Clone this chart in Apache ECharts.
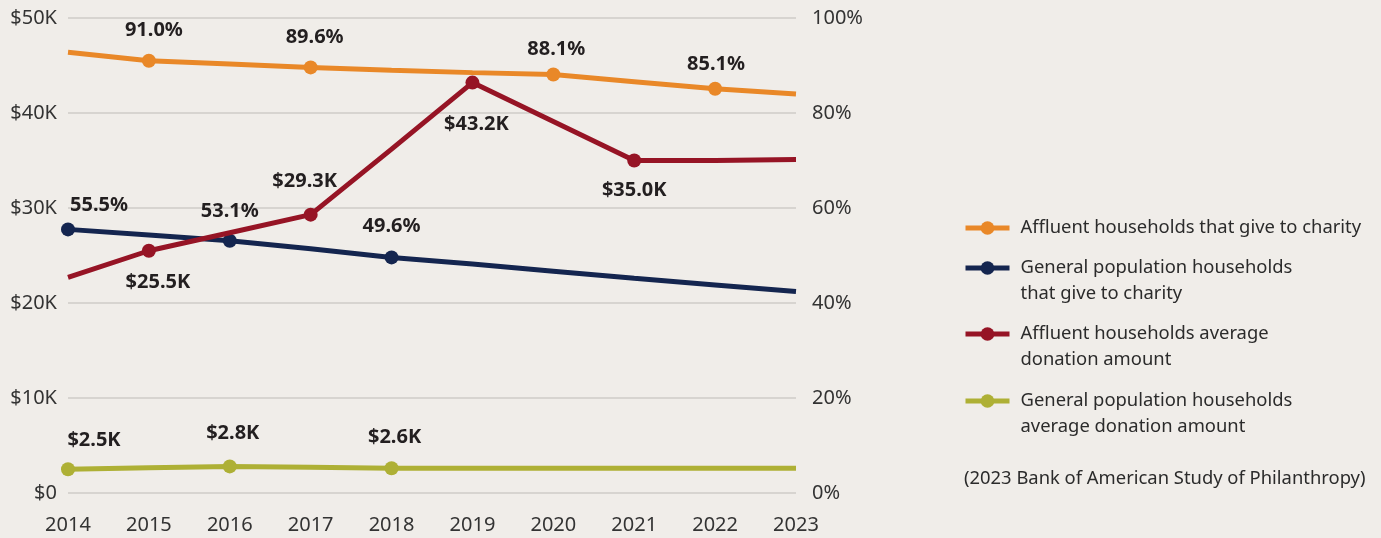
<!DOCTYPE html>
<html>
<head>
<meta charset="utf-8">
<script src="https://cdn.jsdelivr.net/npm/echarts@6/dist/echarts.min.js"></script>
<style>
  html, body { margin: 0; padding: 0; background: #f0ede9; }
  #chart { width: 1381px; height: 538px; }
</style>
</head>
<body>
<div id="chart"></div>
<script>
// Years on the horizontal axis
const years = ['2014', '2015', '2016', '2017', '2018', '2019', '2020', '2021', '2022', '2023'];

// Share of households giving to charity (%)
const affluentGive = [92.8, 91.0, 90.3, 89.6, 89.0, 88.5, 88.1, 86.6, 85.1, 84.0];
const generalGive = [55.5, 54.3, 53.1, 51.4, 49.6, 48.2, 46.7, 45.2, 43.8, 42.4];

// Average donation amount (thousands of dollars)
const affluentDonation = [22.7, 25.5, 27.4, 29.3, 36.2, 43.2, 39.1, 35.0, 35.0, 35.1];
const generalDonation = [2.5, 2.65, 2.8, 2.7, 2.6, 2.6, 2.6, 2.6, 2.6, 2.6];

// Years that carry a marker and a value label, per series
const affluentGiveMarked = ['2015', '2017', '2020', '2022'];
const generalGiveMarked = ['2014', '2016', '2018'];
const affluentDonationMarked = ['2015', '2017', '2019', '2021'];
const generalDonationMarked = ['2014', '2016', '2018'];

// Left axis tick labels (thousands) and right axis tick labels (%)
const dollarTicks = [0, 10, 20, 30, 40, 50];
const percentTicks = [0, 20, 40, 60, 80, 100];

const seriesNames = [
  'Affluent households that give to charity',
  'General population households that give to charity',
  'Affluent households average donation amount',
  'General population households average donation amount'
];
const legendText = [
  'Affluent households that give to charity',
  'General population households\nthat give to charity',
  'Affluent households average\ndonation amount',
  'General population households\naverage donation amount'
];
const colors = ['#e98828', '#14254f', '#961425', '#aeb035'];

const FONT = '"Noto Sans", sans-serif';
const pct = v => v.toFixed(1) + '%';
const usd = v => '$' + v.toFixed(1) + 'K';

// label offsets (px) from marker centre, keyed by year
const labelOffsets = [
  { '2015': [5, -30], '2017': [4, -30], '2020': [3, -25], '2022': [1, -24] },
  { '2014': [31, -24], '2016': [0, -29], '2018': [0, -31] },
  { '2015': [9, 32], '2017': [-6, -33], '2019': [4, 42], '2021': [0, 30] },
  { '2014': [26, -29], '2016': [3, -33], '2018': [3, -31] }
];

function buildData(values, marked, offsets, fmt) {
  return values.map((v, i) => {
    const y = years[i];
    if (marked.indexOf(y) < 0) {
      return { value: v, symbol: 'none' };
    }
    return {
      value: v,
      label: {
        show: true,
        position: 'inside',
        offset: offsets[y],
        formatter: () => fmt(v),
        color: '#231f20',
        fontFamily: FONT,
        fontWeight: 'bold',
        fontSize: 20
      }
    };
  });
}

function lineSeries(idx, values, marked, fmt, axisIdx) {
  return {
    name: seriesNames[idx],
    type: 'line',
    yAxisIndex: axisIdx,
    data: buildData(values, marked, labelOffsets[idx], fmt),
    symbol: 'circle',
    symbolSize: 14,
    showAllSymbol: true,
    lineStyle: { width: 5, color: colors[idx] },
    itemStyle: { color: colors[idx] },
    emphasis: { disabled: true },
    animation: false,
    z: 2 + idx
  };
}

// one legend block per series; a leading blank line keeps the icon beside the first text line
const legendTops = [215, 229, 295, 362];
const legends = seriesNames.map((name, i) => {
  const multi = legendText[i].indexOf('\n') >= 0;
  return {
    data: [name],
    orient: 'vertical',
    left: 963,
    top: legendTops[i],
    padding: 0,
    itemWidth: 44,
    itemHeight: 17,
    selectedMode: false,
    lineStyle: { width: 5 },
    formatter: () => (multi ? '\n' : '') + legendText[i],
    textStyle: {
      fontFamily: FONT,
      fontSize: 18.4,
      color: '#2b2b2b',
      lineHeight: 26,
      padding: [0, 0, 0, 6]
    }
  };
});

const chart = echarts.init(document.getElementById('chart'), null, { renderer: 'canvas' });
chart.setOption({
  backgroundColor: '#f0ede9',
  animation: false,
  grid: { left: 68, right: 585, top: 18, bottom: 45, containLabel: false },
  legend: legends,
  xAxis: {
    type: 'category',
    data: years,
    boundaryGap: false,
    axisLine: { show: false },
    axisTick: { show: false },
    axisLabel: { fontFamily: FONT, fontSize: 20, color: '#333', margin: 22 }
  },
  yAxis: [
    {
      type: 'value',
      min: dollarTicks[0],
      max: dollarTicks[dollarTicks.length - 1],
      interval: dollarTicks[1] - dollarTicks[0],
      axisLine: { show: false },
      axisTick: { show: false },
      splitLine: { lineStyle: { color: '#cfcbc7', width: 1.5 } },
      axisLabel: {
        fontFamily: FONT, fontSize: 20, color: '#333', margin: 11,
        formatter: v => v === 0 ? '$0' : '$' + v + 'K'
      }
    },
    {
      type: 'value',
      min: percentTicks[0],
      max: percentTicks[percentTicks.length - 1],
      interval: percentTicks[1] - percentTicks[0],
      axisLine: { show: false },
      axisTick: { show: false },
      splitLine: { show: false },
      axisLabel: {
        fontFamily: FONT, fontSize: 20, color: '#333', margin: 16,
        formatter: v => v + '%'
      }
    }
  ],
  graphic: [{
    type: 'text',
    left: 964,
    top: 470,
    style: {
      text: '(2023 Bank of American Study of Philanthropy)',
      fontFamily: FONT,
      fontSize: 18.4,
      fill: '#2b2b2b'
    }
  }],
  series: [
    lineSeries(0, affluentGive, affluentGiveMarked, pct, 1),
    lineSeries(1, generalGive, generalGiveMarked, pct, 1),
    lineSeries(2, affluentDonation, affluentDonationMarked, usd, 0),
    lineSeries(3, generalDonation, generalDonationMarked, usd, 0)
  ]
});
</script>
</body>
</html>
